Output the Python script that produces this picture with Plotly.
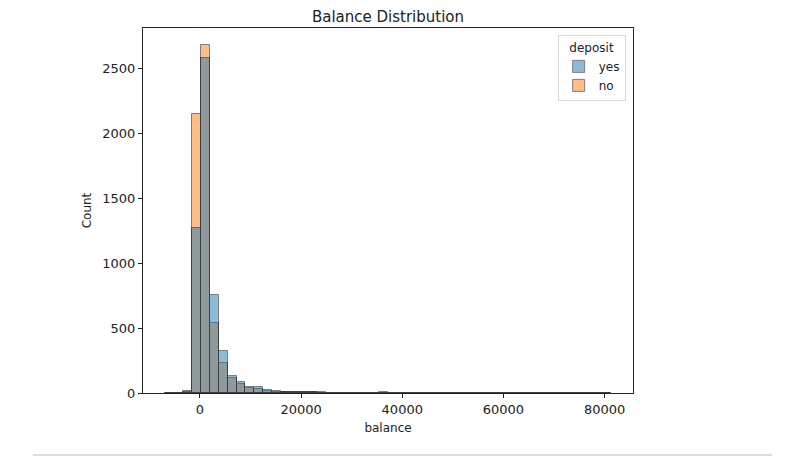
import numpy as np
import plotly.graph_objects as go

# Histogramm-Daten (50 Bins)
bal_min = -6847
bal_max = 81204
n_bins = 50

deposit_levels = ["yes", "no"]
counts_yes = [0, 0, 7, 1269, 2577, 756, 320, 132, 84, 48,
              46, 24, 14, 10, 8, 8, 5, 4, 3, 3,
              2, 1, 0, 1, 4, 1, 0, 0, 0, 0,
              0, 0, 0, 3, 0, 0, 0, 0, 0, 0,
              0, 0, 0, 0, 0, 0, 0, 0, 0, 3]
counts_no = [0, 1, 12, 2146, 2674, 538, 231, 118, 70, 35,
             27, 15, 9, 6, 5, 6, 4, 3, 3, 2,
             2, 1, 0, 0, 3, 0, 0, 0, 0, 0,
             0, 0, 0, 2, 0, 0, 0, 0, 0, 0,
             0, 0, 0, 0, 0, 0, 0, 0, 0, 1]

x_ticks = [0, 20000, 40000, 60000, 80000]
y_ticks = [0, 500, 1000, 1500, 2000, 2500]

edges = np.linspace(bal_min, bal_max, n_bins + 1)
width = edges[1] - edges[0]
centers = (edges[:-1] + edges[1:]) / 2

colors = {"yes": "#1f77b4", "no": "#ff7f0e"}
counts = {"yes": counts_yes, "no": counts_no}

fig = go.Figure()
# seaborn zeichnet die erste Stufe oben -> "no" zuerst
for rank, level in [(2, "no"), (1, "yes")]:
    fig.add_trace(go.Bar(
        x=centers, y=counts[level], width=width,
        name=level, legendrank=rank,
        marker=dict(color=colors[level], line=dict(color="black", width=1)),
        opacity=0.5,
    ))

span = bal_max - bal_min
ymax = max(max(counts_yes), max(counts_no))

axis_font = dict(family="DejaVu Sans", size=13, color="#222")
label_font = dict(family="DejaVu Sans", size=12, color="#222")
fig.update_layout(
    width=800, height=460,
    margin=dict(l=135, r=175, t=20, b=75),
    paper_bgcolor="white", plot_bgcolor="white",
    barmode="overlay", bargap=0,
    font=axis_font,
    title=dict(text="Balance Distribution", x=380 / 800, xanchor="center",
               yref="container", y=1 - 9 / 460, yanchor="middle",
               font=dict(family="DejaVu Sans", size=15, color="#222")),
    legend=dict(
        title=dict(text="deposit", side="top center", font=label_font),
        x=0.985, y=0.98, xanchor="right", yanchor="top",
        bordercolor="#d8d8d8", borderwidth=1, bgcolor="rgba(255,255,255,0.8)",
        font=label_font,
        itemwidth=30,
    ),
    showlegend=True,
)
fig.update_xaxes(
    range=[bal_min - 0.05 * span, bal_max + 0.05 * span],
    tickvals=x_ticks, ticktext=[str(t) for t in x_ticks],
    ticks="outside", ticklen=4, tickcolor="#222",
    showline=True, linecolor="#222", mirror=True, showgrid=False, zeroline=False,
    title=dict(text="balance", standoff=8, font=label_font),
)
fig.update_yaxes(
    range=[0, ymax * 1.05],
    tickvals=y_ticks, ticks="outside", ticklen=4, tickcolor="#222",
    showline=True, linecolor="#222", mirror=True, showgrid=False, zeroline=False,
    title=dict(text="Count", standoff=8, font=label_font),
)

# graue Trennlinie unten (Teil der Seite)
fig.add_shape(type="line", xref="paper", yref="paper",
              x0=-110 / 490, x1=(764 - 135) / 490, y0=-62 / 365, y1=-62 / 365,
              line=dict(color="#cfcfcf", width=1.5))

fig.write_html("out.html")
